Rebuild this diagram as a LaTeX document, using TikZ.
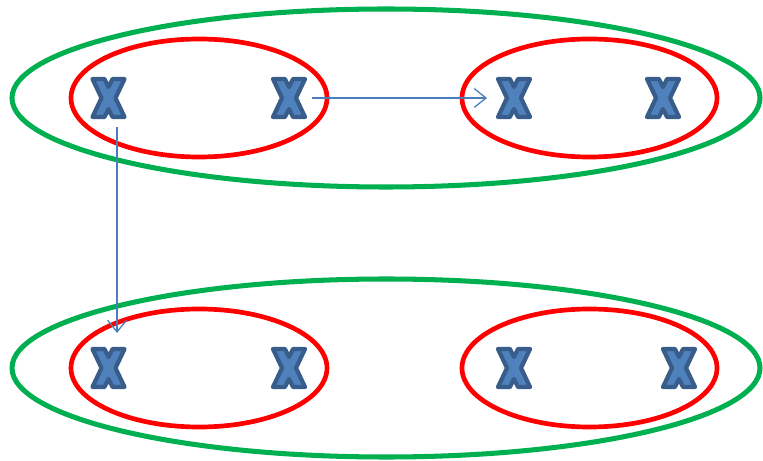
\documentclass[tikz,border=0pt]{standalone}
\usetikzlibrary{arrows.meta}
\definecolor{groupgreen}{HTML}{00B050}
\definecolor{setred}{HTML}{FF0000}
\definecolor{xfill}{HTML}{4F81BD}
\definecolor{xedge}{HTML}{385D8A}
\definecolor{linkblue}{HTML}{4A7EBB}
\tikzset{
  outer/.style={draw=groupgreen, line width=4.3pt},
  inner/.style={draw=setred, line width=4pt},
  link/.style={draw=linkblue, line width=1.1pt,
    -{Straight Barb[length=10, width=16, line width=1.1pt]}},
  xmark/.pic={
    \filldraw[fill=xfill, draw=xedge, line width=3.6pt, line join=round]
      (-16,-19) -- (-4,-19) -- (0,-11) -- (4,-19) -- (16,-19)
      -- (7,0) -- (16,19) -- (4,19) -- (0,11) -- (-4,19)
      -- (-16,19) -- (-7,0) -- cycle;
  }
}
\begin{document}
\begin{tikzpicture}[x=0.03cm, y=-0.03cm]
  \useasboundingbox (0,0) rectangle (763,461);
  % two outer groups
  \draw[outer] (386,98) ellipse [x radius=374, y radius=89];
  \draw[outer] (386,368) ellipse [x radius=374, y radius=89];
  % four inner sets
  \draw[inner] (199,98) ellipse [x radius=128, y radius=59];
  \draw[inner] (589.5,98) ellipse [x radius=127.5, y radius=59];
  \draw[inner] (199,368) ellipse [x radius=128, y radius=59];
  \draw[inner] (589.5,368) ellipse [x radius=127.5, y radius=59];
  % elements
  \pic at (108.5,98) {xmark};
  \pic at (289,98) {xmark};
  \pic at (514,98) {xmark};
  \pic at (663,98) {xmark};
  \pic at (108.5,368) {xmark};
  \pic at (289,368) {xmark};
  \pic at (514,368) {xmark};
  \pic at (679,368) {xmark};
  % arrow end points
  \coordinate (h0) at (312,98);
  \coordinate (h1) at (487,98);
  \coordinate (v0) at (117,127);
  \coordinate (v1) at (117,333);
  \draw[link] (h0) -- (h1);
  \draw[link] (v0) -- (v1);
\end{tikzpicture}
\end{document}
